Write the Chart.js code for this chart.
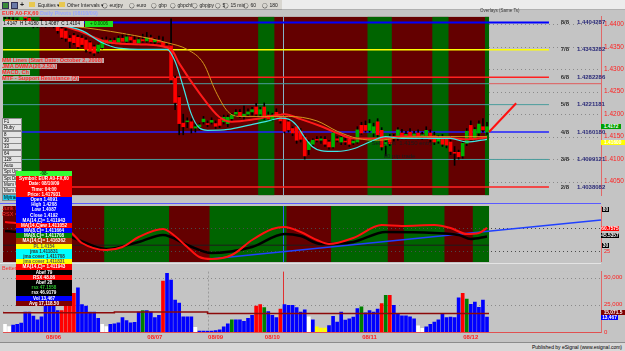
<!DOCTYPE html>
<html>
<head>
<meta charset="utf-8">
<script src="https://cdn.jsdelivr.net/npm/chart.js@4.4.0/dist/chart.umd.min.js"></script>
<style>
  body { margin: 0; width: 625px; height: 351px; background: #c4c4c4; overflow: hidden; position: relative;
         font-family: "Liberation Sans", Arial, sans-serif; }
  canvas { position: absolute; left: 0; }
  .t { position: absolute; white-space: nowrap; line-height: 1; }
  .box { position: absolute; white-space: nowrap; text-align: center; font-weight: bold; overflow: hidden; }
  #toolbar { position: absolute; left: 0; top: 0; width: 282px; height: 9px; background: #d8d6d0; border-bottom: 1px solid #a0a0a0; }
  #toolbarRest { position: absolute; left: 282px; top: 0; width: 343px; height: 9px; background: #ececec; border-bottom: 1px solid #b0b0b0; }
  .tb { position: absolute; top: 2px; font-size: 5px; color: #202020; white-space: nowrap; }
  .overlayTxt { position: absolute; left: 1px; font-size: 5.5px; font-weight: bold; color: #ff2a2a;
                background: rgba(200,200,200,0.85); padding: 0 1px; height: 5px; line-height: 5px; white-space: nowrap; }
  .btn { position: absolute; left: 2px; width: 17px; height: 5px; font-size: 4.5px; line-height: 5px; background: #e4e4e4;
         border: 0.5px solid #8a8a8a; color: #000; padding-left: 1px; overflow: hidden; white-space: nowrap; }
  #dw { position: absolute; left: 16px; top: 171px; width: 56px; }
  .dwr { height: 5.2px; line-height: 5.2px; font-size: 4.6px; font-weight: bold; text-align: center; white-space: nowrap; overflow: hidden; }
</style>
</head>
<body>
<canvas id="mainChart" width="625" height="192" style="top:10px"></canvas>
<canvas id="oscChart" width="625" height="56" style="top:206px"></canvas>
<canvas id="volChart" width="625" height="78" style="top:265px"></canvas>
<div id="overlay"></div>
<script>
// shared x range in bar units (bar i sits at x = i)
const X_MIN = -0.5;
const X_MAX = 147.15;
const LAST_BAR = 119;
const MM_END = 134.3;
const CURSOR_BAR = 68.6;
const WEEK_SEP = 50.1;

// hourly candles, EUR A0-FX,60
const opens = [1.4405,1.4410,1.4406,1.4400,1.4408,1.4418,1.4414,1.4402,1.4396,1.4400,1.4398,1.4400,1.4397,
  1.4395,1.4390,1.4385,1.4369,1.4375,1.4371,1.4369,1.4365,1.4359,1.4350,1.4340,1.4348,
  1.4365,1.4358,1.4364,1.4360,1.4369,1.4362,1.4372,1.4365,1.4358,1.4366,1.4363,1.4370,1.4361,1.4365,1.4360,1.4352,
  1.4352,1.4280,1.4237,1.4180,1.4183,1.4183,1.4169,1.4172,1.4183,1.4179,1.4182,1.4179,1.4189,1.4183,1.4179,1.4190,1.4200,1.4204,1.4196,1.4200,
  1.4205,1.4216,1.4200,1.4216,1.4198,1.4189,1.4204,1.4196,1.4193,1.4183,1.4168,1.4172,1.4162,1.4148,1.4121,1.4133,1.4144,1.4142,1.4144,1.4138,
  1.4127,1.4145,1.4138,1.4140,1.4144,1.4136,1.4138,1.4175,1.4175,1.4164,1.4158,1.4183,1.4164,1.4131,1.4148,1.4146,1.4148,1.4158,1.4150,1.4160,
  1.4152,1.4158,1.4150,1.4152,1.4158,1.4152,1.4140,1.4148,1.4144,1.4138,1.4115,1.4115,1.4107,1.4135,1.4175,1.4145,1.4158,1.4172,1.4160];
const highs = [1.4418,1.4420,1.4415,1.4412,1.4425,1.4428,1.4420,1.4410,1.4405,1.4410,1.4405,1.4408,1.4402,
  1.4398,1.4395,1.4390,1.4375,1.4380,1.4376,1.4375,1.4370,1.4362,1.4354,1.4356,1.4370,
  1.4372,1.4368,1.4370,1.4374,1.4376,1.4380,1.4378,1.4372,1.4370,1.4378,1.4382,1.4376,1.4368,1.4374,1.4372,1.4358,
  1.4412,1.4285,1.4240,1.4200,1.4192,1.4190,1.4178,1.4180,1.4195,1.4185,1.4192,1.4185,1.4196,1.4198,1.4198,1.4202,1.4210,1.4210,1.4218,1.4212,
  1.4215,1.4224,1.4215,1.4225,1.4205,1.4202,1.4212,1.4202,1.4198,1.4188,1.4172,1.4176,1.4168,1.4152,1.4142,1.4145,1.4150,1.4150,1.4150,1.4142,
  1.4162,1.4150,1.4152,1.4146,1.4150,1.4145,1.4172,1.4182,1.4185,1.4188,1.4180,1.4190,1.4170,1.4140,1.4155,1.4155,1.4170,1.4166,1.4162,1.4168,
  1.4162,1.4165,1.4160,1.4172,1.4165,1.4160,1.4152,1.4155,1.4150,1.4142,1.4128,1.4120,1.4140,1.4168,1.4185,1.4170,1.4185,1.4190,1.4182];
const lows = [1.4398,1.4402,1.4396,1.4395,1.4404,1.4410,1.4398,1.4392,1.4393,1.4394,1.4393,1.4394,1.4392,
  1.4380,1.4368,1.4362,1.4348,1.4355,1.4346,1.4350,1.4338,1.4336,1.4330,1.4336,1.4345,
  1.4355,1.4352,1.4356,1.4356,1.4360,1.4358,1.4360,1.4355,1.4354,1.4360,1.4360,1.4358,1.4355,1.4358,1.4350,1.4345,
  1.4270,1.4210,1.4154,1.4154,1.4170,1.4158,1.4160,1.4165,1.4178,1.4172,1.4178,1.4168,1.4170,1.4178,1.4172,1.4185,1.4195,1.4192,1.4185,1.4195,
  1.4198,1.4195,1.4195,1.4188,1.4185,1.4185,1.4190,1.4180,1.4158,1.4160,1.4152,1.4135,1.4138,1.4100,1.4110,1.4128,1.4138,1.4135,1.4128,1.4122,
  1.4124,1.4138,1.4132,1.4132,1.4128,1.4132,1.4135,1.4155,1.4160,1.4160,1.4150,1.4150,1.4120,1.4107,1.4130,1.4140,1.4142,1.4145,1.4145,1.4148,
  1.4146,1.4145,1.4144,1.4148,1.4138,1.4132,1.4135,1.4128,1.4125,1.4110,1.4086,1.4100,1.4102,1.4130,1.4140,1.4140,1.4150,1.4160,1.4155];
const closes = [1.4410,1.4406,1.4400,1.4408,1.4418,1.4414,1.4402,1.4396,1.4400,1.4398,1.4400,1.4397,1.4395,
  1.4386,1.4371,1.4369,1.4362,1.4359,1.4350,1.4355,1.4344,1.4340,1.4336,1.4354,1.4365,
  1.4358,1.4364,1.4360,1.4369,1.4362,1.4372,1.4365,1.4358,1.4366,1.4363,1.4370,1.4361,1.4365,1.4360,1.4352,1.4350,
  1.4276,1.4226,1.4179,1.4172,1.4185,1.4169,1.4172,1.4176,1.4189,1.4177,1.4186,1.4173,1.4175,1.4193,1.4193,1.4198,1.4204,1.4196,1.4200,1.4205,
  1.4210,1.4200,1.4210,1.4193,1.4189,1.4196,1.4193,1.4185,1.4162,1.4165,1.4158,1.4142,1.4144,1.4107,1.4138,1.4142,1.4142,1.4145,1.4133,1.4127,
  1.4158,1.4142,1.4148,1.4138,1.4133,1.4140,1.4165,1.4158,1.4164,1.4179,1.4172,1.4154,1.4127,1.4137,1.4134,1.4148,1.4165,1.4148,1.4155,1.4152,
  1.4156,1.4150,1.4154,1.4164,1.4144,1.4138,1.4148,1.4133,1.4131,1.4117,1.4113,1.4105,1.4135,1.4162,1.4145,1.4166,1.4178,1.4165,1.4172];

// moving averages read at selected bars
const cyanX = [0,12,19,24,28,35,40,42,44,46,48,50,55,60,65,68,70,72,74,76,78,82,86,90,94,98,104,110,114,119];
const cyanY = [1.4406,1.4400,1.4386,1.4359,1.4347,1.4344,1.4344,1.4317,1.4261,1.4200,1.4169,1.4164,1.4166,1.4175,1.4185,
  1.4191,1.4189,1.4175,1.4148,1.4127,1.4119,1.4117,1.4123,1.4138,1.4150,1.4146,1.4146,1.4146,1.4138,1.4144];
const redMaX = [0,12,18,26,35,41,43,48,53,56,62,69,73,78,82,86,92,98,108,114,119];
const redMaY = [1.4408,1.4402,1.4386,1.4359,1.4355,1.4344,1.4313,1.4247,1.4193,1.4183,1.4189,1.4200,1.4189,1.4173,
  1.4158,1.4146,1.4146,1.4150,1.4148,1.4144,1.4148];
const goldX = [0,20,32,40,45,49,52,55,58,64,70,77,82,87,92,98,110,119];
const goldY = [1.4410,1.4392,1.4375,1.4359,1.4344,1.4313,1.4251,1.4206,1.4195,1.4195,1.4195,1.4185,1.4162,1.4146,1.4142,
  1.4148,1.4150,1.4150];

// Murrey Math levels
const mmNames = ['8/8','7/8','6/8','5/8','4/8','3/8','2/8'];
const mmLevels = [1.4404287,1.4343282,1.4282286,1.4221181,1.4160180,1.4099121,1.4038082];
const mmText = ['1.4404287','1.4343282','1.4282286','1.4221181','1.4160180','1.4099121','1.4038082'];
const extraLevel = 1.42678;
const arrowX = [119.5, 126.2];
const arrowY = [1.41603, 1.42244];
const priceTicks = [1.405,1.41,1.415,1.42,1.425,1.43,1.435,1.44];

// green (long) zones, in bar ranges
const mainGreen = [[0,8],[63,66],[90,95],[106,109],[119,119]];
const oscGreen = [[25,40],[51,69],[81,94],[99,108],[116,119]];

// oscillator panel
const rsxX = [0,16,19,25,29,33,39,41,45,48,51,56,61,66,69,73,77,80,86,93,98,106,110,114,117,119];
const rsxY = [71.4,53.6,33.9,21.4,26.8,44.6,58.9,51.8,26.8,8.9,5.4,12.5,39.3,58.9,62.5,53.6,39.3,32.1,42.9,66,64.3,66,60.7,50,51.8,60.8];
const sigX = [0,16,25,33,39,45,51,61,69,73,78,86,94,106,112,115,119];
const sigY = [55.4,44.6,23.2,35.7,48.2,30.4,16.1,26.8,50,46.4,32.1,35.7,53.6,51.8,48.2,41.1,45.5];
const trendX = [50.6, 147.15];
const trendY = [5.4, 75];

// volume panel
const volumes = [7000,5000,6400,7000,8100,18200,18200,14600,11200,14000,
  23800,27200,24400,19600,19600,28000,32200,35600,40600,25200,
  23800,18200,18200,12600,7000,5000,7000,7600,8400,13200,
  10400,8400,9000,18200,19600,19600,18200,13200,15400,46800,
  54000,47600,29400,26600,14000,14000,14000,4200,800,800,
  800,800,1400,2000,4800,7600,11200,11200,11200,9800,
  12600,15400,23800,25200,22400,18800,15400,13200,21000,25200,
  24400,24400,22400,18200,20400,14000,11200,4800,3600,3600,
  5900,14300,9200,18200,10900,12000,13700,21600,23200,17600,
  19600,18200,21000,26000,33600,33600,24400,16800,14800,14800,
  14000,12000,5600,3400,4800,7000,9200,11200,16200,13200,
  13700,13200,31400,35600,30200,25500,27400,22700,29400,13700];
const volState = ('wwbbbbbbbb' + 'bbbbrrrrbb' + 'bbbbwwbbbb' + 'bbbbgbbbbr' + 'bbbbbbbwbb' + 'bbbbbbgbbb' +
  'bbrrgbbbrb' + 'bbbbbwbyyy' + 'bbbbbbbbgb' + 'bbbrgrbbbb' + 'bbwwbbbbbb' + 'bbbrgbbbbb').split('');
const avgX = [-0.5, 27, 50, 66, 90, 119.5];
const avgY = [18700, 17600, 18400, 17100, 16900, 16900];
const dayTicks = [12, 37, 52, 66, 90, 115];
const dayLabels = ['08/06', '08/07', '08/09', '08/10', '08/11', '08/12'];

const volColors = { w: '#ffffff', b: '#0000ff', r: '#ff0000', g: '#008000', y: '#ffff00' };
const FONT = 'Liberation Sans';

function pts(xs, ys) { return xs.map((x, i) => ({ x, y: ys[i] })); }
const idx = opens.map((_, i) => i);

// dark red / green zone background, gray beyond the last bar
const zonePlugin = {
  id: 'zones',
  beforeDraw(chart, args, opts) {
    const { ctx, chartArea: a, scales: { x } } = chart;
    const px = v => x.getPixelForValue(v);
    ctx.save();
    ctx.fillStyle = '#c4c4c4';
    ctx.fillRect(a.left, a.top, a.width, a.height);
    ctx.fillStyle = '#640000';
    ctx.fillRect(px(-0.5), a.top, px(LAST_BAR + 0.5) - px(-0.5), a.height);
    ctx.fillStyle = '#006400';
    opts.green.forEach(([s, e]) => ctx.fillRect(px(s - 0.5), a.top, px(e + 0.5) - px(s - 0.5), a.height));
    ctx.restore();
  }
};

// dotted horizontal levels and vertical markers
const guidePlugin = {
  id: 'guides',
  beforeDatasetsDraw(chart, args, opts) {
    const { ctx, chartArea: a, scales: { x, y } } = chart;
    ctx.save();
    (opts.dots || []).forEach(d => {
      ctx.strokeStyle = d.color;
      ctx.lineWidth = 1;
      ctx.setLineDash([1, 3]);
      d.levels.forEach(v => {
        const py = Math.round(y.getPixelForValue(v)) + 0.5;
        ctx.beginPath();
        ctx.moveTo(x.getPixelForValue(d.from), py);
        ctx.lineTo(x.getPixelForValue(d.to), py);
        ctx.stroke();
      });
    });
    (opts.vlines || []).forEach(l => {
      const px = Math.round(x.getPixelForValue(l.x)) + 0.5;
      ctx.strokeStyle = l.color;
      ctx.lineWidth = 1;
      ctx.setLineDash(l.dash || []);
      ctx.beginPath();
      ctx.moveTo(px, a.top);
      ctx.lineTo(px, a.bottom);
      ctx.stroke();
    });
    ctx.restore();
  }
};

// Murrey labels and trade notes on the price panel
const mainLabels = {
  id: 'mainLabels',
  afterDatasetsDraw(chart) {
    const { ctx, scales: { x, y } } = chart;
    ctx.save();
    ctx.textBaseline = 'middle';
    ctx.font = 'bold 6px "' + FONT + '"';
    mmLevels.forEach((v, i) => {
      const py = y.getPixelForValue(v);
      ctx.fillStyle = '#303030';
      ctx.fillText(mmNames[i], x.getPixelForValue(137.2), py);
      ctx.fillStyle = '#2a2a78';
      ctx.fillText(mmText[i], x.getPixelForValue(141.2), py);
    });
    ctx.font = '6px "' + FONT + '"';
    ctx.fillStyle = '#1a1a1a';
    ctx.fillText('Sell Limit  1.4150 entry', x.getPixelForValue(90.5), y.getPixelForValue(1.4134));
    ctx.fillText('80 pip trade', x.getPixelForValue(93.5), y.getPixelForValue(1.4105));
    ctx.restore();
  }
};

const rightAxis = (extra) => Object.assign({
  position: 'right',
  afterFit: s => { s.width = 24; },
  grid: { display: false, drawTicks: false, tickLength: 0 },
  border: { display: true, color: '#e06868', width: 1 }
}, extra);
const xAxis = (extra) => Object.assign({ type: 'linear', min: X_MIN, max: X_MAX, offset: false, display: false }, extra);
const baseOptions = {
  responsive: false,
  animation: false,
  events: [],
  layout: { padding: { left: 3, right: 0, top: 0, bottom: 0 }, autoPadding: false }
};

// ---- price panel
const mmColors = ['#0000ff', '#ffff00', '#ff2020', '#4a9c9c', '#2020ff', '#4a9c9c', '#ff2020'];
const mmWidths = [2, 1.5, 1.5, 1, 1.5, 1, 1.5];
const mainDatasets = mmLevels.map((v, i) => ({
  type: 'line', data: [{ x: X_MIN, y: v }, { x: MM_END, y: v }],
  borderColor: mmColors[i], borderWidth: mmWidths[i], pointRadius: 0, order: 10
}));
mainDatasets.push(
  { type: 'line', data: [{ x: X_MIN, y: extraLevel }, { x: LAST_BAR + 0.5, y: extraLevel }],
    borderColor: '#4a9c9c', borderWidth: 1, pointRadius: 0, order: 10 },
  { type: 'line', data: [{ x: LAST_BAR + 0.5, y: extraLevel }, { x: X_MAX, y: extraLevel }],
    borderColor: '#e05a5a', borderWidth: 1, pointRadius: 0, order: 10 },
  { type: 'bar', data: idx.map(i => ({ x: i, y: [lows[i], highs[i]] })), backgroundColor: '#000000',
    barThickness: 1, grouped: false, order: 3 },
  { type: 'bar', data: idx.map(i => ({ x: i, y: [opens[i], closes[i]] })),
    backgroundColor: idx.map(i => closes[i] >= opens[i] ? '#00b000' : '#ff0000'),
    barThickness: 3, grouped: false, order: 2 },
  { type: 'line', data: pts(goldX, goldY), borderColor: '#d4961c', borderWidth: 1, pointRadius: 0,
    cubicInterpolationMode: 'monotone', order: 1 },
  { type: 'line', data: pts(redMaX, redMaY), borderColor: '#ff1a1a', borderWidth: 2, pointRadius: 0,
    cubicInterpolationMode: 'monotone', order: 1 },
  { type: 'line', data: pts(cyanX, cyanY), borderColor: '#3ee6e6', borderWidth: 1.2, pointRadius: 0,
    cubicInterpolationMode: 'monotone', order: 0 },
  { type: 'line', data: pts(arrowX, arrowY), borderColor: '#ff1010', borderWidth: 2, pointRadius: 0, order: 0 }
);

new Chart(document.getElementById('mainChart'), {
  type: 'bar',
  data: { datasets: mainDatasets },
  options: Object.assign({}, baseOptions, {
    scales: {
      x: xAxis(),
      y: rightAxis({
        min: 1.40198, max: 1.44165,
        afterBuildTicks: s => { s.ticks = priceTicks.map(v => ({ value: v })); },
        ticks: { color: '#ff2020', font: { size: 6.5, family: FONT }, padding: 3, callback: v => v.toFixed(4) }
      })
    },
    plugins: {
      legend: { display: false }, tooltip: { enabled: false },
      zones: { green: mainGreen },
      guides: {
        dots: [{ levels: priceTicks, from: LAST_BAR + 0.5, to: X_MAX, color: '#8a8a8a' }],
        vlines: [{ x: CURSOR_BAR, color: '#86b2c6' }]
      }
    }
  }),
  plugins: [zonePlugin, guidePlugin, mainLabels]
});

// ---- oscillator panel
new Chart(document.getElementById('oscChart'), {
  type: 'line',
  data: {
    datasets: [
      { data: [{ x: X_MIN, y: 30 }, { x: LAST_BAR + 0.5, y: 30 }], borderColor: '#1c1c1c', borderWidth: 1, pointRadius: 0, order: 5 },
      { data: pts(trendX, trendY), borderColor: '#2040ff', borderWidth: 1.5, pointRadius: 0, order: 3 },
      { data: pts(sigX, sigY), borderColor: '#000000', borderWidth: 2.5, pointRadius: 0, cubicInterpolationMode: 'monotone', order: 2 },
      { data: pts(rsxX, rsxY), borderColor: '#ff1010', borderWidth: 2, pointRadius: 0, cubicInterpolationMode: 'monotone', order: 1 }
    ]
  },
  options: Object.assign({}, baseOptions, {
    scales: {
      x: xAxis(),
      y: rightAxis({ min: 0, max: 100, ticks: { display: false } })
    },
    plugins: {
      legend: { display: false }, tooltip: { enabled: false },
      zones: { green: oscGreen },
      guides: {
        dots: [{ levels: [60, 20], from: X_MIN, to: X_MAX, color: '#4a4a4a' }],
        vlines: [{ x: CURSOR_BAR, color: '#3a5cff' }]
      }
    }
  }),
  plugins: [zonePlugin, guidePlugin]
});

// ---- volume panel
new Chart(document.getElementById('volChart'), {
  type: 'bar',
  data: {
    datasets: [
      { type: 'bar', data: idx.map(i => ({ x: i, y: volumes[i] })), backgroundColor: volState.map(s => volColors[s]),
        barThickness: 3, grouped: false, order: 2 },
      { type: 'line', data: pts(avgX, avgY), borderColor: '#8c0a0a', borderWidth: 1.5, pointRadius: 0, stepped: 'after', order: 1 }
    ]
  },
  options: Object.assign({}, baseOptions, {
    scales: {
      x: xAxis({
        display: true,
        afterFit: s => { s.height = 11; },
        afterBuildTicks: s => { s.ticks = dayTicks.map(v => ({ value: v })); },
        grid: { display: false, drawTicks: false, tickLength: 0 },
        border: { display: true, color: '#e05050', width: 1 },
        ticks: { color: '#ff2020', font: { size: 6, weight: 'bold', family: FONT }, padding: 2, maxRotation: 0, autoSkip: false,
          callback: v => dayLabels[dayTicks.indexOf(v)] }
      }),
      y: rightAxis({
        min: 0, max: 55500,
        afterBuildTicks: s => { s.ticks = [0, 25000, 50000].map(v => ({ value: v })); },
        ticks: { color: '#ff2020', font: { size: 6, family: FONT }, padding: 3, callback: v => v.toLocaleString('en-US') }
      })
    },
    plugins: {
      legend: { display: false }, tooltip: { enabled: false },
      zones: { green: [] },
      guides: {
        dots: [{ levels: [25000, 50000], from: X_MIN, to: X_MAX, color: '#8a8a8a' }],
        vlines: [{ x: WEEK_SEP, color: '#9a9a9a', dash: [2, 2] }, { x: CURSOR_BAR, color: '#e03030' }]
      }
    }
  }),
  plugins: [{ id: 'volBg', beforeDraw(chart) {
    const { ctx, chartArea: a } = chart;
    ctx.save(); ctx.fillStyle = '#c4c4c4'; ctx.fillRect(a.left, a.top, a.width, a.height); ctx.restore();
  } }, guidePlugin]
});

// ---- static screen furniture (toolbar, labels, data window)
const ov = document.getElementById('overlay');
function add(html) { ov.insertAdjacentHTML('beforeend', html); }

add('<div id="toolbar"></div><div id="toolbarRest"></div>');
add('<div style="position:absolute;left:2px;top:2px;width:5px;height:5px;background:#3a8a3a;border:0.5px solid #335"></div>');
add('<div style="position:absolute;left:11px;top:2px;width:5px;height:5px;background:#6a7aa8;border:0.5px solid #335"></div>');
add('<div class="tb" style="left:20px;top:1px;font-size:7px;font-weight:bold">+</div>');
add('<div style="position:absolute;left:29px;top:2px;width:6px;height:5px;background:#e8c850"></div>');
add('<div class="tb" style="left:38px">Equities &#9662;</div>');
add('<div style="position:absolute;left:59px;top:2px;width:6px;height:5px;background:#e8c850"></div>');
add('<div class="tb" style="left:67px">Other Intervals &#9662;</div>');
const radios = [['eurjpy', 102], ['euro', 129], ['gbp', 151], ['gbpchf', 170], ['gbpjpy', 192], ['5', 215], ['15 min', 223], ['60', 243], ['180', 262]];
radios.forEach(([t, x]) => add('<div class="tb" style="left:' + x + 'px">&#9711; ' + t + '</div>'));

add('<div class="t" style="left:2px;top:11px;font-size:5.5px;font-weight:bold;color:#ff2a2a">EUR A0-FX,60 <span style="color:#9aa8ff">Daily Pivots (08/10/09)</span></div>');
add('<div class="t" style="left:480px;top:9px;font-size:4.5px;color:#404040">Overlays (Same Ts)</div>');
add('<div class="t" style="left:2px;top:21px;width:82px;height:6px;background:#d0d0d0;font-size:4.6px;line-height:6px;color:#000">&nbsp;1.4147 &nbsp;H 1.4180 &nbsp;L 1.4087 &nbsp;C 1.4104</div>');
add('<div class="t" style="left:85px;top:21px;width:28px;height:6px;background:#1ee01e;font-size:4.6px;line-height:6px;color:#004000;text-align:center">+ 0.0006</div>');

const studies = ['MM Lines (Start Date: October 2, 2008)', 'JMA DWMA(20,2,50,)', 'MACD, Ch', 'MTF - Support Resistance (2)'];
studies.forEach((s, i) => add('<div class="overlayTxt" style="top:' + (58 + i * 6) + 'px">' + s + '</div>'));

const buttons = ['F1', 'Ruby', '8', '30', '33', '64', '128', 'Auto', 'Spt Up', 'Spt Dn', 'Mom U', 'Mom D', 'Mytrade'];
buttons.forEach((b, i) => add('<div class="btn" style="top:' + (118 + i * 6.3) + 'px;' +
  (b === 'Mytrade' ? 'background:#22ccee;' : '') + '">' + b + '</div>'));

// panel separators and titles
add('<div style="position:absolute;left:0;top:203px;width:601px;height:1px;background:#5a5aff"></div>');
add('<div style="position:absolute;left:0;top:263px;width:601px;height:1px;background:#e4e4e4"></div>');
add('<div class="t" style="left:2px;top:206px;font-size:5.5px;color:#ff2a2a">Jurik RSX</div>');
add('<div class="t" style="left:2px;top:212px;font-size:5.5px;color:#ff2a2a">RSX =</div>');
add('<div class="t" style="left:2px;top:266px;font-size:5.5px;color:#ff2a2a">Better Volume</div>');

const dwRows = [
  ['#33ff33', '#003300', '-08-'], ['#ff0000', '#fff', 'Symbol: EUR A0-FX,60'], ['#ff0000', '#fff', 'Date: 08/10/09'],
  ['#ff0000', '#fff', 'Time: 04:00'], ['#ff0000', '#fff', 'Price: 1.417931'], ['#0000ff', '#fff', 'Open 1.4091'],
  ['#0000ff', '#fff', 'High 1.4208'], ['#0000ff', '#fff', 'Low 1.4087'], ['#0000ff', '#fff', 'Close 1.4192'],
  ['#0000ff', '#fff', 'MA(14,C)= 1.411943'], ['#ff0000', '#fff', 'MA(14,C)ew 1.411052'], ['#0000ff', '#fff', 'MA(8,C)= 1.411664'],
  ['#008000', '#fff', 'MA(8,C)= 1.411708'], ['#a83000', '#fff', 'MA(14,C)= 1.416362'], ['#ffff00', '#555', 'PL 1.4154'],
  ['#00ffff', '#333', 'jma 1.411831'], ['#00ffff', '#333', 'jma cover 1.411708'], ['#ffff00', '#555', 'jma cover 1.411831'],
  ['#ff0000', '#fff', 'MA(14,C)= 1.411943'], ['#000000', '#fff', 'Abef 79'], ['#ff0000', '#fff', 'RSX 48.86'],
  ['#000000', '#fff', 'Abef 28'], ['#000000', '#30c030', 'rsx 47.1558'], ['#000000', '#fff', 'rsx 46.9179'],
  ['#0000ff', '#fff', 'Vol 13,467'], ['#800000', '#fff', 'Avg 17,118.50']
];
add('<div id="dw">' + dwRows.map(r => '<div class="dwr" style="background:' + r[0] + ';color:' + r[1] + '">' + r[2] + '</div>').join('') + '</div>');

// value flags on the right axes
const flags = [
  [124, 601, 20, '#00a000', '#fff', '1.4172'], [140, 601, 24, '#ffff00', '#ffffff', '1.41600'],
  [207, 602, 7, '#000', '#fff', '80'], [226, 601, 18, '#ff0000', '#fff', '60.7575'],
  [233, 601, 18, '#000', '#fff', '45.5357'], [243, 602, 7, '#000', '#fff', '30'],
  [310, 601, 24, '#800000', '#fff', '15,071.5'], [315, 601, 17, '#0000ff', '#fff', '13,467']
];
flags.forEach(f => add('<div class="box" style="top:' + f[0] + 'px;left:' + f[1] + 'px;width:' + f[2] +
  'px;height:5px;line-height:5px;font-size:4.8px;background:' + f[3] + ';color:' + f[4] + '">' + f[5] + '</div>'));
add('<div class="t" style="left:604px;top:249px;font-size:5.5px;color:#ff2020">25</div>');

add('<div style="position:absolute;left:0;top:342px;width:625px;height:9px;background:#d8d8d8;border-top:1px solid #8c8c8c"></div>');
add('<div class="t" style="right:3px;top:345px;font-size:5px;color:#000">Published by eSignal (www.esignal.com)</div>');
</script>
</body>
</html>
